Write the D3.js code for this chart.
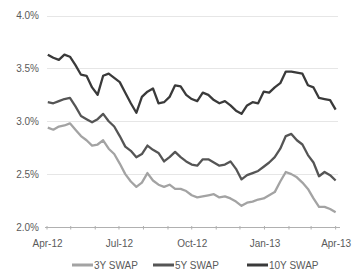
<!DOCTYPE html>
<html lang="en">
<head>
<meta charset="utf-8">
<title>Swap rates</title>
<script src="https://cdn.jsdelivr.net/npm/d3@7"></script>
<style>
  body { margin: 0; background: #fff; font-family: 'Liberation Sans', Arial, sans-serif; }
  .axis text { font-size: 10px; fill: #5a5a5a; }
  .legend text { font-size: 10px; fill: #5a5a5a; }
</style>
</head>
<body>
<script>
// weekly observations, Apr-12 .. Apr-13
var dates = ["2012-04-02","2012-04-09","2012-04-16","2012-04-23","2012-04-30","2012-05-07","2012-05-14","2012-05-21","2012-05-28",
  "2012-06-04","2012-06-11","2012-06-18","2012-06-25","2012-07-02","2012-07-09","2012-07-16","2012-07-23","2012-07-30",
  "2012-08-06","2012-08-13","2012-08-20","2012-08-27","2012-09-03","2012-09-10","2012-09-17","2012-09-24","2012-10-01",
  "2012-10-08","2012-10-15","2012-10-22","2012-10-29","2012-11-05","2012-11-12","2012-11-19","2012-11-26","2012-12-03",
  "2012-12-10","2012-12-17","2012-12-24","2012-12-31","2013-01-07","2013-01-14","2013-01-21","2013-01-28","2013-02-04",
  "2013-02-11","2013-02-18","2013-02-25","2013-03-04","2013-03-11","2013-03-18","2013-03-25","2013-04-01"];

var swap3y = [2.94,2.92,2.95,2.96,2.98,2.92,2.86,2.82,2.77,2.78,2.82,2.74,2.69,2.60,2.50,2.43,2.38,2.42,2.51,2.44,2.40,2.38,2.40,2.36,
  2.36,2.34,2.30,2.28,2.29,2.30,2.31,2.28,2.29,2.27,2.24,2.20,2.23,2.24,2.26,2.27,2.30,2.33,2.43,2.52,2.50,2.47,2.42,2.36,
  2.27,2.19,2.19,2.17,2.14];
var swap5y = [3.18,3.17,3.19,3.21,3.22,3.14,3.05,3.02,2.99,3.02,3.07,3.00,2.95,2.86,2.76,2.72,2.66,2.69,2.77,2.73,2.70,2.62,2.66,2.71,
  2.66,2.62,2.59,2.58,2.64,2.64,2.61,2.58,2.59,2.62,2.55,2.45,2.49,2.51,2.53,2.57,2.61,2.66,2.74,2.86,2.88,2.82,2.78,2.68,
  2.61,2.48,2.52,2.49,2.44];
var swap10y = [3.63,3.60,3.58,3.63,3.61,3.53,3.44,3.43,3.32,3.25,3.43,3.45,3.41,3.37,3.27,3.17,3.08,3.23,3.28,3.31,3.17,3.18,3.23,3.34,
  3.33,3.25,3.21,3.19,3.27,3.25,3.20,3.17,3.19,3.15,3.10,3.07,3.15,3.18,3.17,3.28,3.27,3.32,3.36,3.47,3.47,3.46,3.45,3.34,
  3.32,3.22,3.21,3.20,3.11];

var seriesNames = ["3Y SWAP", "5Y SWAP", "10Y SWAP"];
var yTicks = [2.0, 2.5, 3.0, 3.5, 4.0];
var xTickDates = ["2012-04-01","2012-07-01","2012-10-01","2013-01-01","2013-04-01"];

var w = 362, h = 274;
var colours = ["#a3a3a3", "#555555", "#3a3a3a"];
var parse = d3.timeParse("%Y-%m-%d");
var fmt = d3.timeFormat("%b-%y");

var svg = d3.select("body").append("svg").attr("width", w).attr("height", h);

var x = d3.scaleTime()
  .domain([parse("2012-04-01"), parse("2013-04-04")])
  .range([47, 338]);
var y = d3.scaleLinear().domain([2.0, 4.0]).range([227, 15.5]);

// gridlines
svg.append("g").selectAll("line")
  .data(yTicks.slice(1))
  .enter().append("line")
  .attr("x1", 47).attr("x2", 338)
  .attr("y1", function(d) { return Math.round(y(d)) + 0.5; })
  .attr("y2", function(d) { return Math.round(y(d)) + 0.5; })
  .style("stroke", "#e6e6e6").style("stroke-width", 1);

var yAxis = svg.append("g").attr("class", "axis")
  .attr("transform", "translate(40,0)")
  .call(d3.axisLeft(y).tickValues(yTicks).tickSize(0).tickPadding(1)
    .tickFormat(function(d) { return d.toFixed(1) + "%"; }));
yAxis.select(".domain").remove();

var xAxis = svg.append("g").attr("class", "axis")
  .attr("transform", "translate(0,227.5)")
  .call(d3.axisBottom(x).tickValues(xTickDates.map(parse)).tickSize(0).tickPadding(12).tickFormat(fmt));
xAxis.select(".domain").remove();

// baseline with little month ticks
svg.append("line").attr("x1", 45).attr("x2", 340).attr("y1", 227.5).attr("y2", 227.5)
  .style("stroke", "#b0b0b0").style("stroke-width", 1);
svg.append("g").selectAll("line")
  .data(d3.timeMonth.range(parse("2012-04-01"), parse("2013-04-02")))
  .enter().append("line")
  .attr("x1", function(d) { return x(d); }).attr("x2", function(d) { return x(d); })
  .attr("y1", 226).attr("y2", 229.5)
  .style("stroke", "#b0b0b0");

var allSeries = [swap3y, swap5y, swap10y];
var line = d3.line()
  .x(function(d, i) { return x(parse(dates[i])); })
  .y(function(d) { return y(d); });

allSeries.forEach(function(s, k) {
  svg.append("path").datum(s)
    .attr("d", line)
    .style("fill", "none")
    .style("stroke", colours[k])
    .style("stroke-width", 2.3)
    .style("stroke-linejoin", "round");
});

// legend
var legendX = [72, 153, 247];
var legend = svg.append("g").attr("class", "legend");
seriesNames.forEach(function(name, k) {
  legend.append("line")
    .attr("x1", legendX[k]).attr("x2", legendX[k] + 21)
    .attr("y1", 265).attr("y2", 265)
    .style("stroke", colours[k]).style("stroke-width", 3);
  legend.append("text")
    .attr("x", legendX[k] + 22).attr("y", 269)
    .text(name);
});
</script>
</body>
</html>
